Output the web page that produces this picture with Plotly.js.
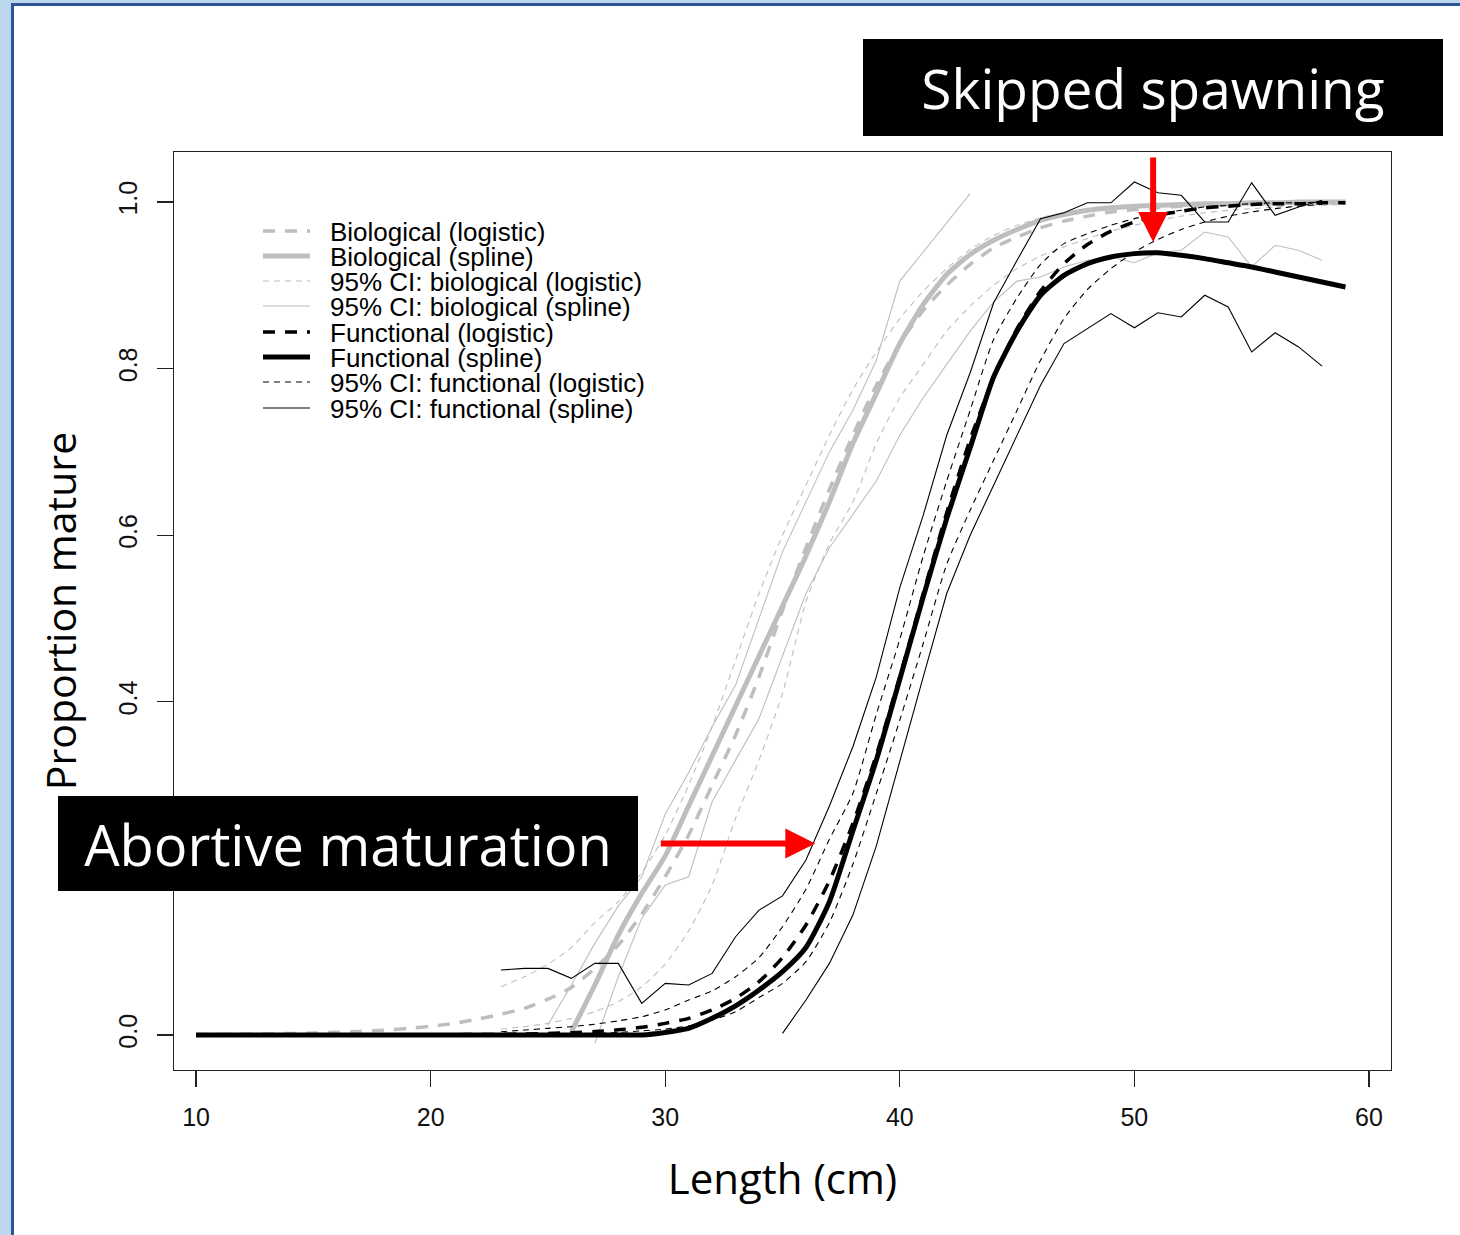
<!DOCTYPE html>
<html><head><meta charset="utf-8">
<script src="https://cdn.plot.ly/plotly-3.0.1.min.js"></script>
<style>
html,body{margin:0;padding:0;background:#bdd7ee;width:1460px;height:1235px;overflow:hidden;}
#frame{position:absolute;left:11px;top:3px;width:1452px;height:1240px;background:#fff;border-left:3px solid #2f5597;border-top:3px solid #2f5597;}
#chart{position:absolute;left:0;top:0;width:1460px;height:1235px;}
</style></head><body><div id="frame"></div><div id="chart"></div>
<script>
// ---------------- DATA ----------------
const lengths = [10,11,12,13,14,15,16,17,18,19,20,21,22,23,24,25,26,27,28,29,30,31,32,33,34,35,36,37,38,39,40,41,42,43,44,45,46,47,48,49,50,51,52,53,54,55,56,57,58,59];

// Functional (spline), L10..59
const funcSpline = [0,0,0,0,0,0,0,0,0,0,0,0,0,0,0,0,0,0,0,
  0.0,0.003,0.008,0.02,0.035,0.054,0.076,0.105,0.16,0.245,0.33,0.427,0.526,0.62,0.705,0.79,0.845,0.888,0.912,0.926,0.934,0.938,0.939,0.936,0.932,0.927,0.922,0.916,0.91,0.904,0.898];
// Functional (logistic), L10..59
const funcLogistic = [0.0000,0.0000,0.0000,0.0000,0.0000,0.0000,0.0001,0.0001,0.0001,0.0002,0.0003,0.0004,0.0006,
  0.0008,0.0013,0.0019,0.0028,0.0042,0.0062,0.0092,0.014,0.020,0.030,0.044,0.064,0.093,0.132,0.185,0.254,0.336,0.43,0.53,0.627,0.715,0.789,0.848,0.893,0.926,0.949,0.965,0.976,0.984,0.989,0.993,0.995,0.997,0.998,0.998,0.999,0.999];
// Biological (logistic), L10..59
const bioLogistic = [0.0005,0.0007,0.0010,0.0013,0.0018,0.0024,0.0032,0.0043,0.0058,0.0078,0.0105,0.014,0.019,0.025,0.032,0.043,0.057,0.08,0.108,0.145,
  0.19,0.24,0.30,0.36,0.43,0.51,0.585,0.655,0.72,0.78,0.83,0.87,0.90,0.925,0.945,0.958,0.969,0.977,0.983,0.988,0.991,0.993,0.995,0.996,0.997,0.998,0.998,0.999,0.999,0.999];
// Biological (spline), from L26
const bioSplineStart = 26;
const bioSpline = [0.004,0.06,0.12,0.17,0.215,0.275,0.335,0.395,0.455,0.515,0.575,0.64,0.71,0.77,0.83,0.877,0.913,0.937,0.954,0.967,0.978,0.985,0.99,0.993,0.995,0.996,0.997,0.998,0.998,0.999,0.999,1.0,1.0,1.0];
// 95% CI biological (logistic), from L23
const bioLogisticCIStart = 23;
const bioLogisticUpper = [0.058,0.07,0.085,0.105,0.135,0.16,0.195,0.24,0.30,0.37,0.45,0.53,0.60,0.66,0.72,0.775,0.82,0.86,0.893,0.92,0.943,0.96,0.972,0.981,0.987,0.991,0.994,0.996,0.997,0.998,0.998,0.999,0.999,0.999,1.0,1.0,1.0];
const bioLogisticLower = [0.007,0.010,0.014,0.02,0.028,0.04,0.058,0.085,0.125,0.18,0.26,0.33,0.41,0.52,0.59,0.64,0.71,0.765,0.805,0.845,0.875,0.90,0.92,0.935,0.946,0.956,0.965,0.972,0.978,0.983,0.987,0.99,0.992,0.994,0.995,0.996,0.997];
// 95% CI biological (spline)
const bioSplineUpperStart = 25;
const bioSplineUpper = [0.012,0.06,0.11,0.155,0.19,0.265,0.315,0.37,0.42,0.50,0.58,0.64,0.70,0.75,0.81,0.905,0.94,0.975,1.01];
const bioSplineLowerStart = 27;
const bioSplineLower = [-0.01,0.07,0.14,0.18,0.19,0.28,0.33,0.38,0.455,0.53,0.585,0.625,0.665,0.72,0.765,0.805,0.845,0.88,0.905,0.91,0.922,0.93,0.934,0.927,0.939,0.942,0.964,0.958,0.922,0.948,0.942,0.93];
// 95% CI functional (logistic), from L23
const funcLogisticCIStart = 23;
const funcLogisticUpper = [0.004,0.006,0.008,0.010,0.013,0.017,0.022,0.03,0.042,0.053,0.07,0.093,0.13,0.175,0.235,0.29,0.385,0.475,0.575,0.665,0.75,0.835,0.885,0.925,0.95,0.962,0.972,0.98,0.986,0.99,0.994,0.996,0.998,0.999,0.999,1.0];
const funcLogisticLower = [0.0002,0.0003,0.0005,0.001,0.002,0.003,0.005,0.007,0.011,0.018,0.028,0.045,0.062,0.088,0.135,0.205,0.29,0.378,0.47,0.565,0.63,0.69,0.75,0.81,0.86,0.895,0.92,0.94,0.955,0.967,0.976,0.983,0.988,0.992,0.995,0.997];
// 95% CI functional (spline)
const funcSplineUpperStart = 23;
const funcSplineUpper = [0.078,0.080,0.080,0.068,0.086,0.086,0.038,0.062,0.060,0.074,0.118,0.150,0.167,0.21,0.275,0.346,0.43,0.537,0.624,0.72,0.795,0.879,0.93,0.98,0.987,0.999,0.999,1.024,1.011,1.008,0.976,0.976,1.023,0.984,0.994,1.002];
const funcSplineLowerStart = 35;
const funcSplineLower = [0.002,0.042,0.086,0.144,0.227,0.33,0.43,0.53,0.60,0.66,0.72,0.78,0.83,0.848,0.866,0.849,0.867,0.862,0.888,0.874,0.82,0.843,0.826,0.803];

const xTickVals = [10,20,30,40,50,60];
const yTickVals = [0,0.2,0.4,0.6,0.8,1.0];
const yTickText = ['0.0','0.2','0.4','0.6','0.8','1.0'];
const legendLabels = ['Biological (logistic)','Biological (spline)','95% CI: biological (logistic)','95% CI: biological (spline)',
  'Functional (logistic)','Functional (spline)','95% CI: functional (logistic)','95% CI: functional (spline)'];
const xTitle = 'Length (cm)';
const yTitle = 'Proportion mature';
const noteSkipped = 'Skipped spawning';
const noteAbortive = 'Abortive maturation';
const skippedPoint = {length: 50.8, prop: 0.952};
const abortivePoint = {length: 36.4, prop: 0.23};

// ---------------- STYLES ----------------
const GREY = '#bebebe', BLACK = '#000000';
const S = {
  bioLog:   {color:GREY,  width:3.5, dash:'12px,10px'},
  bioSpl:   {color:GREY,  width:5,   dash:'solid'},
  bioLogCI: {color:GREY,  width:1.1, dash:'6px,5px'},
  bioSplCI: {color:GREY,  width:1.1, dash:'solid'},
  fLog:     {color:BLACK, width:3.5, dash:'12px,10px'},
  fSpl:     {color:BLACK, width:5,   dash:'solid'},
  fLogCI:   {color:BLACK, width:1.1, dash:'6px,5px'},
  fSplCI:   {color:BLACK, width:1.1, dash:'solid'}
};
const legendStyles = [S.bioLog,S.bioSpl,S.bioLogCI,S.bioSplCI,S.fLog,S.fSpl,S.fLogCI,S.fSplCI];

function xsFrom(start, vals){ const i = lengths.indexOf(start); return lengths.slice(i, i + vals.length); }
function tr(x, y, st, shape){ return {x:x, y:y, type:'scatter', mode:'lines', line:{color:st.color, width:st.width, dash:st.dash, shape:shape||'linear', smoothing:0.6}, hoverinfo:'skip', showlegend:false}; }

const traces = [
  tr(xsFrom(bioLogisticCIStart,bioLogisticUpper), bioLogisticUpper, S.bioLogCI, 'spline'),
  tr(xsFrom(bioLogisticCIStart,bioLogisticLower), bioLogisticLower, S.bioLogCI, 'spline'),
  tr(xsFrom(bioSplineUpperStart,bioSplineUpper), bioSplineUpper, S.bioSplCI),
  tr(xsFrom(bioSplineLowerStart,bioSplineLower), bioSplineLower, S.bioSplCI),
  tr(lengths, bioLogistic, S.bioLog, 'spline'),
  tr(xsFrom(bioSplineStart,bioSpline), bioSpline, S.bioSpl, 'spline'),
  tr(xsFrom(funcLogisticCIStart,funcLogisticUpper), funcLogisticUpper, S.fLogCI, 'spline'),
  tr(xsFrom(funcLogisticCIStart,funcLogisticLower), funcLogisticLower, S.fLogCI, 'spline'),
  tr(xsFrom(funcSplineUpperStart,funcSplineUpper), funcSplineUpper, S.fSplCI),
  tr(xsFrom(funcSplineLowerStart,funcSplineLower), funcSplineLower, S.fSplCI),
  tr(lengths, funcLogistic, S.fLog, 'spline'),
  tr(lengths, funcSpline, S.fSpl, 'spline')
];

// ---------------- LAYOUT ----------------
const W = 1460, H = 1235;
const M = {l:174, r:69, t:152, b:165};
const PW = W - M.l - M.r, PH = H - M.t - M.b;
const px = v => (v - M.l) / PW;
const py = v => (H - M.b - v) / PH;

const shapes = [], annotations = [];
const rowY = [231,256,281,306,332,357,382,408];
legendLabels.forEach((lab, i) => {
  const st = legendStyles[i];
  shapes.push({type:'line', xref:'paper', yref:'paper', x0:px(263), x1:px(310), y0:py(rowY[i]), y1:py(rowY[i]),
    line:{color:st.color, width:st.width, dash:st.dash}});
  annotations.push({xref:'paper', yref:'paper', x:px(328), y:py(rowY[i]+1), xanchor:'left', yanchor:'middle',
    text:lab, showarrow:false, font:{family:'Liberation Sans, Arial', size:26, color:'#000'}});
});

// label boxes
annotations.push({xref:'paper', yref:'paper', x:px(1153), y:py(87.5), xanchor:'center', yanchor:'middle',
  text:noteSkipped, showarrow:false, bgcolor:'#000', width:580, height:97, borderpad:0, borderwidth:0,
  font:{family:'Open Sans', size:55, color:'#fff'}});
annotations.push({xref:'paper', yref:'paper', x:px(348), y:py(843.5), xanchor:'center', yanchor:'middle',
  text:noteAbortive, showarrow:false, bgcolor:'#000', width:580, height:95, borderpad:0, borderwidth:0,
  font:{family:'Open Sans', size:56, color:'#fff'}});
// red arrows
annotations.push({x:skippedPoint.length, y:skippedPoint.prop, xref:'x', yref:'y', text:'', showarrow:true,
  ax:0, ay:-86, axref:'pixel', ayref:'pixel', arrowcolor:'#ff0000', arrowwidth:6, arrowhead:2, arrowsize:1, standoff:0});
annotations.push({x:abortivePoint.length, y:abortivePoint.prop, xref:'x', yref:'y', text:'', showarrow:true,
  ax:-156, ay:0, axref:'pixel', ayref:'pixel', arrowcolor:'#ff0000', arrowwidth:6, arrowhead:2, arrowsize:1, standoff:0});

const tickFont = {family:'Liberation Sans, Arial', size:25, color:'#111'};
const layout = {
  width:W, height:H, margin:M,
  paper_bgcolor:'rgba(0,0,0,0)', plot_bgcolor:'rgba(0,0,0,0)',
  showlegend:false, hovermode:false,
  xaxis:{range:[9.06,60.94], tickvals:xTickVals, ticks:'outside', ticklen:16, tickwidth:1.3, tickcolor:'#222',
    showline:true, mirror:true, linecolor:'#222', linewidth:1.3, showgrid:false, zeroline:false,
    tickfont:tickFont, ticklabelstandoff:9,
    title:{text:xTitle, font:{family:'Open Sans', size:42, color:'#000'}, standoff:34}},
  yaxis:{range:[-0.042,1.06], tickvals:yTickVals, ticktext:yTickText, tickangle:-90, ticks:'outside', ticklen:16, tickwidth:1.3, tickcolor:'#222',
    showline:true, mirror:true, linecolor:'#222', linewidth:1.3, showgrid:false, zeroline:false,
    tickfont:tickFont, ticklabelstandoff:10,
    title:{text:yTitle, font:{family:'Open Sans', size:41, color:'#000'}, standoff:24}},
  shapes:shapes, annotations:annotations
};

Plotly.newPlot('chart', traces, layout, {displayModeBar:false, staticPlot:true});
</script></body></html>
